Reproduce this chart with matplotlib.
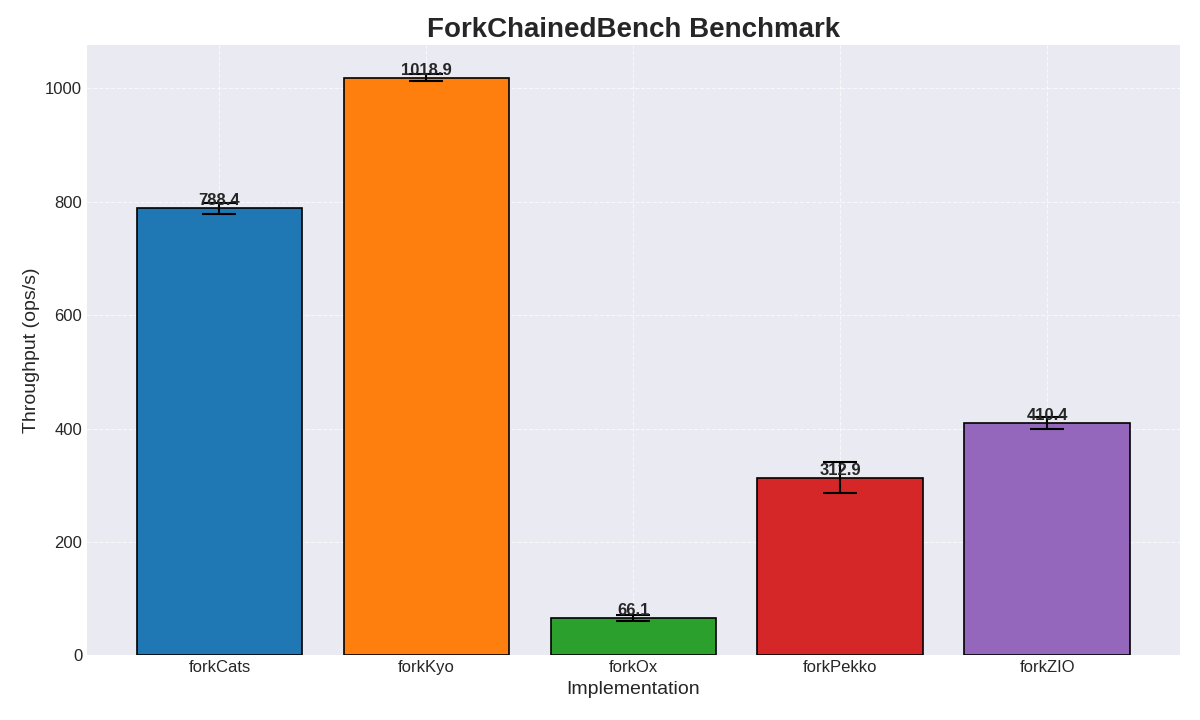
import matplotlib
matplotlib.use('Agg')
import matplotlib.pyplot as plt

implementations = ['forkCats', 'forkKyo', 'forkOx', 'forkPekko', 'forkZIO']
throughput = [788.4, 1018.9, 66.1, 312.9, 410.4]
errors = [10.0, 6.5, 5.6, 27.5, 10.5]
colors = ['#1f77b4', '#ff7f0e', '#2ca02c', '#d62728', '#9467bd']

plt.style.use('seaborn-v0_8-darkgrid')
plt.rcParams['font.family'] = ['Liberation Sans', 'DejaVu Sans']

fig, ax = plt.subplots(figsize=(12, 7.2), dpi=100)
bars = ax.bar(implementations, throughput, yerr=errors, capsize=12,
              color=colors, edgecolor='black', linewidth=1.2,
              error_kw={'elinewidth': 1.5, 'capthick': 1.5, 'ecolor': 'black'})

# value labels on top of each bar
for bar, val in zip(bars, throughput):
    ax.text(bar.get_x() + bar.get_width() / 2, bar.get_height(), f'{val:.1f}',
            ha='center', va='bottom', fontsize=12, fontweight='bold')

ax.grid(True, linestyle='--', alpha=0.7)
ax.set_xlabel('Implementation', fontsize=14)
ax.set_ylabel('Throughput (ops/s)', fontsize=14)
ax.set_title('ForkChainedBench Benchmark', fontsize=20, fontweight='bold')
ax.tick_params(labelsize=12)

fig.subplots_adjust(left=0.0725, right=0.983, top=0.9375, bottom=0.09)
plt.savefig('out.png', dpi=100)
